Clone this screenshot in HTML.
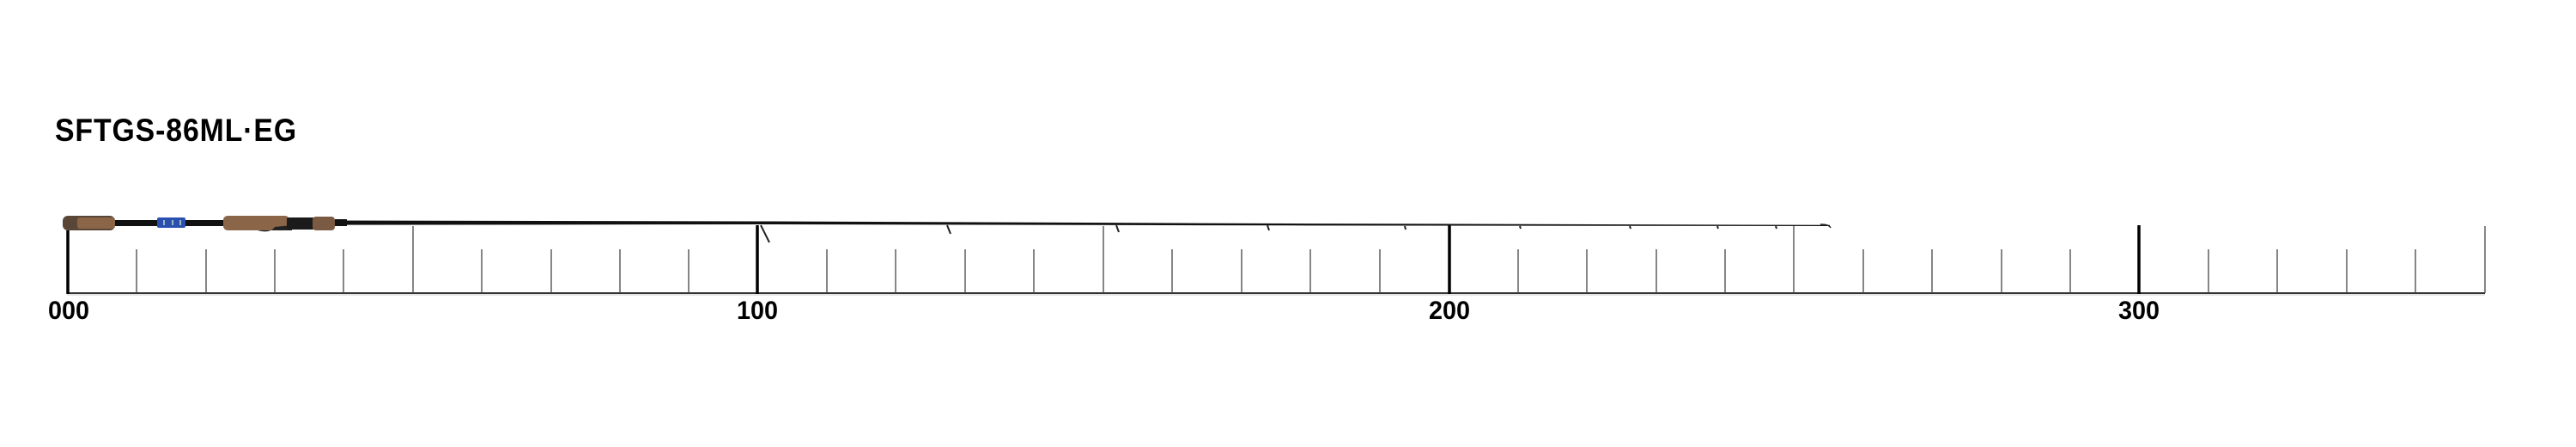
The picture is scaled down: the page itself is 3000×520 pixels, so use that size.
<!DOCTYPE html>
<html><head><meta charset="utf-8"><style>
html,body{margin:0;padding:0;background:#fff;width:3000px;height:520px;overflow:hidden}
svg{display:block}
</style></head><body>
<svg width="3000" height="520" viewBox="0 0 3000 520" xmlns="http://www.w3.org/2000/svg">
<text x="64" y="164" font-family="Liberation Sans, sans-serif" font-weight="bold" font-size="37" letter-spacing="1" fill="#000" textLength="282" lengthAdjust="spacingAndGlyphs">SFTGS-86ML·EG</text>
<line x1="78" y1="341" x2="2894" y2="341" stroke="#333" stroke-width="2"/>
<line x1="78" y1="343" x2="2894" y2="343" stroke="#ccc" stroke-width="1"/>
<g stroke="#444" stroke-width="1.3">
<line x1="159" y1="290" x2="159" y2="341"/><line x1="240" y1="290" x2="240" y2="341"/><line x1="320" y1="290" x2="320" y2="341"/><line x1="400" y1="290" x2="400" y2="341"/>
<line x1="481" y1="263" x2="481" y2="341"/>
<line x1="561" y1="290" x2="561" y2="341"/><line x1="642" y1="290" x2="642" y2="341"/><line x1="722" y1="290" x2="722" y2="341"/><line x1="802" y1="290" x2="802" y2="341"/>
<line x1="963" y1="290" x2="963" y2="341"/><line x1="1043" y1="290" x2="1043" y2="341"/><line x1="1124" y1="290" x2="1124" y2="341"/><line x1="1204" y1="290" x2="1204" y2="341"/>
<line x1="1285" y1="263" x2="1285" y2="341"/>
<line x1="1365" y1="290" x2="1365" y2="341"/><line x1="1446" y1="290" x2="1446" y2="341"/><line x1="1526" y1="290" x2="1526" y2="341"/><line x1="1607" y1="290" x2="1607" y2="341"/>
<line x1="1768" y1="290" x2="1768" y2="341"/><line x1="1848" y1="290" x2="1848" y2="341"/><line x1="1929" y1="290" x2="1929" y2="341"/><line x1="2009" y1="290" x2="2009" y2="341"/>
<line x1="2089" y1="263" x2="2089" y2="341"/>
<line x1="2170" y1="290" x2="2170" y2="341"/><line x1="2250" y1="290" x2="2250" y2="341"/><line x1="2331" y1="290" x2="2331" y2="341"/><line x1="2411" y1="290" x2="2411" y2="341"/>
<line x1="2572" y1="290" x2="2572" y2="341"/><line x1="2652" y1="290" x2="2652" y2="341"/><line x1="2733" y1="290" x2="2733" y2="341"/><line x1="2813" y1="290" x2="2813" y2="341"/>
<line x1="2894" y1="263" x2="2894" y2="341"/>
</g>
<g stroke="#000" stroke-width="3.5">
<line x1="79" y1="268" x2="79" y2="342"/>
<line x1="882" y1="262" x2="882" y2="342"/>
<line x1="1688" y1="262" x2="1688" y2="342"/>
<line x1="2491" y1="262" x2="2491" y2="342"/>
</g>
<g font-family="Liberation Sans, sans-serif" font-weight="bold" font-size="30" fill="#000" text-anchor="middle">
<text x="80" y="371" textLength="48" lengthAdjust="spacingAndGlyphs">000</text>
<text x="882" y="371" textLength="48" lengthAdjust="spacingAndGlyphs">100</text>
<text x="1688" y="371" textLength="48" lengthAdjust="spacingAndGlyphs">200</text>
<text x="2491" y="371" textLength="48" lengthAdjust="spacingAndGlyphs">300</text>
</g>
<polygon points="130,256 900,257.5 1500,260 2131,261.8 2131,263 1500,262.3 900,261 130,262" fill="#111"/>
<path d="M2120 261 Q2130 261 2132 265" stroke="#222" stroke-width="1.5" fill="none"/>
<g stroke="#222" stroke-width="2" fill="none">
<path d="M886 262 L896 282"/>
<path d="M1103 262 L1107 272"/>
<path d="M1300 262 L1303 270"/>
<path d="M1476 262 L1478 268"/>
<path d="M1636 263 L1637 267"/>
<path d="M1770 263 L1771 266"/>
<path d="M1898 263 L1899 266"/>
<path d="M2000 263 L2001 266"/>
<path d="M2068 263 L2069 266"/>
</g>
<rect x="73" y="251" width="61" height="17" rx="6" fill="#5a4636"/>
<rect x="90" y="253" width="44" height="13" rx="3" fill="#8a6548"/>
<rect x="134" y="256" width="50" height="7" fill="#111"/>
<rect x="183" y="253" width="33" height="12" rx="2" fill="#2a4fb0"/>
<rect x="190" y="256" width="2" height="6" fill="#9bb"/><rect x="200" y="256" width="2" height="6" fill="#9bb"/><rect x="209" y="256" width="2" height="6" fill="#9bb"/>
<rect x="216" y="256" width="44" height="7" fill="#111"/>
<rect x="260" y="251" width="77" height="17" rx="5" fill="#8a6548"/>
<path d="M300 268 Q315 272 320 264 L340 262 L340 268 Z" fill="#222"/>
<rect x="334" y="253" width="32" height="14" rx="2" fill="#1b1b1b"/>
<rect x="364" y="252" width="26" height="16" rx="4" fill="#7a5a42"/>
<rect x="390" y="255" width="14" height="8" fill="#111"/>
</svg>
</body></html>
